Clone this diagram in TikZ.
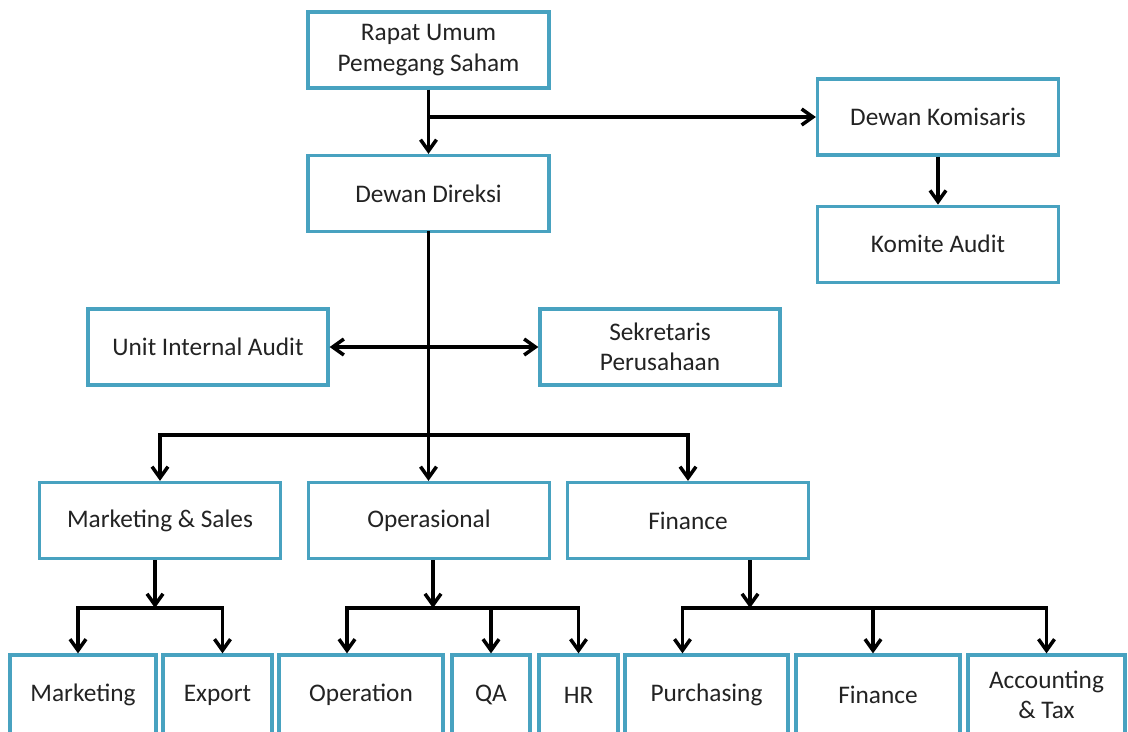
\documentclass[tikz,border=0pt]{standalone}
\usepackage{fontspec}
\setmainfont{Carlito}
\usetikzlibrary{positioning}
\usetikzlibrary{arrows.meta}
\definecolor{boxblue}{RGB}{72,162,192}
\definecolor{inktext}{RGB}{35,35,35}

\begin{document}
\begin{tikzpicture}[
        x = 0.025cm,
        y = -0.025cm,
        box/.style = {
                draw = boxblue,
                line width = 2.3pt,
                fill = white,
                text = inktext,
                minimum width = #1,
                minimum height = 1.9cm,
                align = center,
                inner sep = 0pt,
                font = \fontsize{18}{21.5}\selectfont
            },
            box/.default = 6.025cm,
        leaf/.style = {box = #1, minimum height = 2cm},
        link/.style = {line width = 2.5pt, line cap = rect},
        arr/.style = {-{Straight Barb[length=2.8mm, width=4mm, line width=2.5pt]}, line width = 2.5pt},
        dbl/.style = {{Straight Barb[length=2.8mm, width=4mm, line width=2.5pt]}-{Straight Barb[length=2.8mm, width=4mm, line width=2.5pt]}, line width = 2.5pt}
    ]
        \useasboundingbox (0,0) rectangle (1128,731);
        \clip (0,0) rectangle (1128,731);

        % top
        \node[box] (rups) at (428.5,50) {Rapat Umum\\Pemegang Saham};
        \node[box] (direksi) at (428.5,193.5) {Dewan Direksi};
        \node[box] (komisaris) at (938,117) {Dewan Komisaris};
        \node[box, below = 1.2cm of komisaris] (komite) {Komite Audit};

        % staff
        \node[box=6cm] (uia) at (208,347) {Unit Internal Audit};
        \node[box=6cm] (sek) at (660,347) {Sekretaris\\Perusahaan};

        % divisions
        \node[box] (ms) at (160,520.5) {Marketing \& Sales};
        \node[box] (ops) at (429,520.5) {Operasional};
        \node[box] (fin) at (688,520.5) {Finance};

        % departments
        \node[leaf=3.65cm] (mkt) at (83,695) {Marketing};
        \node[leaf=2.725cm] (exp) at (217.5,695) {Export};
        \node[leaf=4.1cm] (opn) at (361,695) {Operation};
        \node[leaf=1.95cm] (qa) at (491,695) {QA};
        \node[leaf=1.975cm] (hr) at (578.5,695) {HR};
        \node[leaf=4.075cm] (pur) at (706.5,695) {Purchasing};
        \node[leaf=4.1cm] (fnc) at (878,695) {Finance};
        \node[leaf=3.925cm] (acc) at (1046.5,695) {Accounting\\\& Tax};

        \coordinate (busA) at (0,435);
        \coordinate (busB) at (0,608);

        \draw[arr] (rups) -- (direksi);
        \draw[arr] (rups.south |- komisaris) -- (komisaris);
        \draw[arr] (komisaris) -- (komite);

        \draw[link] (direksi.south) -- (direksi.south |- busA);
        \draw[dbl] (uia) -- (sek);
        \draw[link] (ms.north |- busA) -- (fin.north |- busA);
        \draw[arr] (ms.north |- busA) -- (ms.north);
        \draw[arr] (direksi.south |- busA) -- (direksi.south |- ops.north);
        \draw[arr] (fin.north |- busA) -- (fin.north);

        \draw[arr] ([xshift=-0.125cm]ms.south) -- ([xshift=-0.125cm]ms.south |- busB);
        \draw[link] ([xshift=-0.125cm]mkt.north |- busB) -- ([xshift=0.125cm]exp.north |- busB);
        \draw[arr] ([xshift=-0.125cm]mkt.north |- busB) -- ([xshift=-0.125cm]mkt.north);
        \draw[arr] ([xshift=0.125cm]exp.north |- busB) -- ([xshift=0.125cm]exp.north);

        \draw[arr] ([xshift=0.1cm]ops.south) -- ([xshift=0.1cm]ops.south |- busB);
        \draw[link] ([xshift=-0.35cm]opn.north |- busB) -- (hr.north |- busB);
        \draw[arr] ([xshift=-0.35cm]opn.north |- busB) -- ([xshift=-0.35cm]opn.north);
        \draw[arr] (qa.north |- busB) -- (qa.north);
        \draw[arr] (hr.north |- busB) -- (hr.north);

        \draw[arr] ([xshift=1.55cm]fin.south) -- ([xshift=1.55cm]fin.south |- busB);
        \draw[link] ([xshift=-0.6cm]pur.north |- busB) -- (acc.north |- busB);
        \draw[arr] ([xshift=-0.6cm]pur.north |- busB) -- ([xshift=-0.6cm]pur.north);
        \draw[arr] ([xshift=-0.125cm]fnc.north |- busB) -- ([xshift=-0.125cm]fnc.north);
        \draw[arr] (acc.north |- busB) -- (acc.north);

    \end{tikzpicture}
\end{document}
